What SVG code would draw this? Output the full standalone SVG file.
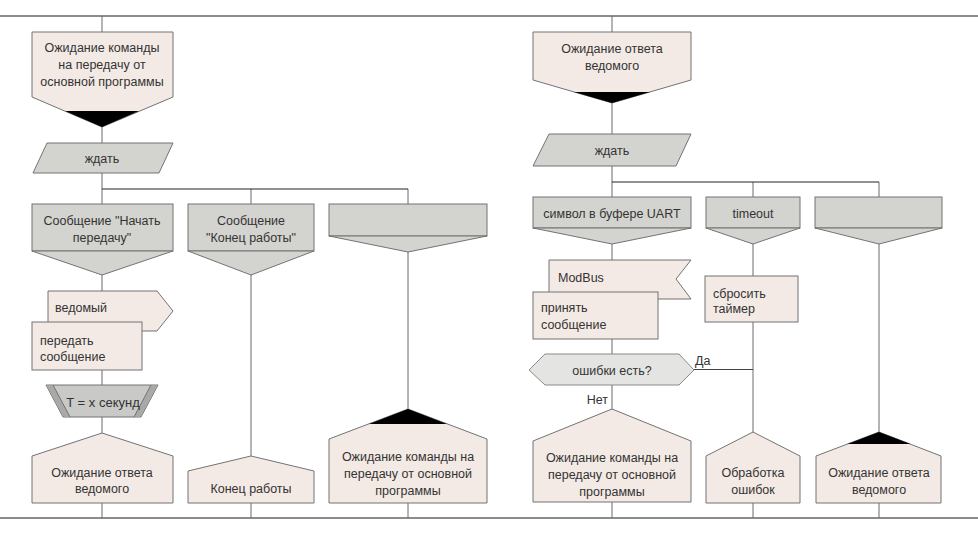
<svg xmlns="http://www.w3.org/2000/svg" width="978" height="534" viewBox="0 0 978 534">
<style>
text{font-family:"Liberation Sans",Arial,sans-serif;font-size:12.5px;fill:#333}
.c{text-anchor:middle}
.pink{fill:#f4eae5;stroke:#737373;stroke-width:1}
.gray{fill:#d3d4cf;stroke:#737373;stroke-width:1}
.dec{fill:#e4e5e2;stroke:#8a8a8a;stroke-width:1}
.tim{fill:#c9c9c7;stroke:#737373;stroke-width:1}
.band{fill:#a9a9a7;stroke:none}
.blk{fill:#000;stroke:none}
.frame{stroke:#8c8c8c;stroke-width:2;fill:none}
.v{stroke:#6a6a6a;stroke-width:1;fill:none}
.h{stroke:#222;stroke-width:1;fill:none}
</style>
<rect width="978" height="534" fill="#fff"/>
<g id="connectors">
<line class="frame" x1="0" y1="16" x2="978" y2="16"/>
<line class="frame" x1="0" y1="518" x2="978" y2="518"/>
<line class="v" x1="102" y1="16" x2="102" y2="518"/>
<line class="v" x1="251" y1="189" x2="251" y2="518"/>
<line class="v" x1="408" y1="189" x2="408" y2="518"/>
<line class="h" x1="102" y1="189" x2="408" y2="189"/>
<line class="v" x1="612" y1="16" x2="612" y2="518"/>
<line class="v" x1="753" y1="182" x2="753" y2="518"/>
<line class="v" x1="879" y1="182" x2="879" y2="518"/>
<line class="h" x1="612" y1="182" x2="879" y2="182"/>
<line class="h" x1="694" y1="369.5" x2="753" y2="369.5" style="stroke:#444"/>
<text x="695" y="365">Да</text>
<text x="608" y="404" text-anchor="end">Нет</text>
</g>
<g id="n-wait-cmd-left">
<polygon class="pink" points="32,32 173,32 173,97 102,127 32,97"/>
<polygon class="blk" points="65,111 139,111 102,127"/>
<text class="c" x="102" y="51.5">Ожидание команды</text>
<text class="c" x="102" y="69">на передачу от</text>
<text class="c" x="102" y="86">основной программы</text>
</g>
<g id="n-wait-left">
<polygon class="gray" points="47,143 173,143 159,173 33,173"/>
<text class="c" x="102" y="163">ждать</text>
</g>
<g id="n-msg-start">
<rect class="gray" x="32" y="204" width="141" height="47"/>
<polygon class="gray" points="32,251 173,251 102,275"/>
<text class="c" x="102" y="225">Сообщение "Начать</text>
<text class="c" x="102" y="242">передачу"</text>
</g>
<g id="n-msg-end">
<rect class="gray" x="188" y="204" width="126" height="47"/>
<polygon class="gray" points="188,251 314,251 251,275"/>
<text class="c" x="251" y="225">Сообщение</text>
<text class="c" x="251" y="242">"Конец работы"</text>
</g>
<g id="n-branch-empty-left">
<rect class="gray" x="329" y="204" width="158" height="32"/>
<polygon class="gray" points="329,236 487,236 408,252"/>
</g>
<g id="n-slave">
<polygon class="pink" points="48,291 157,291 173,311 157,331 48,331"/>
<text x="55" y="311.5">ведомый</text>
</g>
<g id="n-send">
<rect class="pink" x="32" y="322" width="110" height="48"/>
<text x="40" y="344.5">передать</text>
<text x="40" y="361">сообщение</text>
</g>
<g id="n-timer">
<polygon class="tim" points="46,385 158,385 141,417 63,417"/>
<polygon class="band" points="46.5,385.5 53,385.5 70,416.5 63.5,416.5"/>
<polygon class="band" points="157.5,385.5 151,385.5 134,416.5 140.5,416.5"/>
<line x1="53" y1="385" x2="70" y2="417" stroke="#737373"/>
<line x1="151" y1="385" x2="134" y2="417" stroke="#737373"/>
<text class="c" x="103" y="406.5" style="font-size:13px">T = x секунд</text>
</g>
<g id="n-wait-resp-left">
<polygon class="pink" points="102,433 173,456 173,503 32,503 32,456"/>
<text class="c" x="102" y="476.5">Ожидание ответа</text>
<text class="c" x="102" y="493">ведомого</text>
</g>
<g id="n-end">
<polygon class="pink" points="251,456 314,471 314,503 188,503 188,471"/>
<text class="c" x="251" y="493">Конец работы</text>
</g>
<g id="n-wait-cmd-mid">
<polygon class="pink" points="408,409 487,439 487,503 329,503 329,439"/>
<polygon class="blk" points="408,409 447,424 369,424"/>
<text class="c" x="408" y="460.5">Ожидание команды на</text>
<text class="c" x="408" y="478">передачу от основной</text>
<text class="c" x="408" y="495">программы</text>
</g>
<g id="n-wait-resp-right">
<polygon class="pink" points="533,32 691,32 691,80 612,103 533,80"/>
<polygon class="blk" points="574,92 650,92 612,103"/>
<text class="c" x="612" y="52.5">Ожидание ответа</text>
<text class="c" x="612" y="69.5">ведомого</text>
</g>
<g id="n-wait-right">
<polygon class="gray" points="549,134 691,134 676,166 533,166"/>
<text class="c" x="612" y="155">ждать</text>
</g>
<g id="n-uart">
<rect class="gray" x="533" y="197" width="158" height="31"/>
<polygon class="gray" points="533,228 691,228 612,244"/>
<text class="c" x="612" y="217.5">символ в буфере UART</text>
</g>
<g id="n-timeout">
<rect class="gray" x="706" y="197" width="94" height="31"/>
<polygon class="gray" points="706,228 800,228 753,244"/>
<text class="c" x="753" y="217.5">timeout</text>
</g>
<g id="n-branch-empty-right">
<rect class="gray" x="815" y="197" width="127" height="31"/>
<polygon class="gray" points="815,228 942,228 879,244"/>
</g>
<g id="n-modbus">
<polygon class="pink" points="549,260 691,260 676,279 691,299 549,299"/>
<text x="558" y="281.5">ModBus</text>
</g>
<g id="n-receive">
<rect class="pink" x="533" y="292" width="125" height="47"/>
<text x="541" y="311.5">принять</text>
<text x="541" y="328.5">сообщение</text>
</g>
<g id="n-reset">
<rect class="pink" x="705" y="276" width="93" height="46"/>
<text x="713" y="297.5">сбросить</text>
<text x="713" y="312.5">таймер</text>
</g>
<g id="n-errors">
<polygon class="dec" points="529,370 545,354 679,354 694,370 679,385 545,385"/>
<text class="c" x="612" y="374.5">ошибки есть?</text>
</g>
<g id="n-wait-cmd-right">
<polygon class="pink" points="612,409 691,441 691,502 533,502 533,441"/>
<text class="c" x="612" y="461.5">Ожидание команды на</text>
<text class="c" x="612" y="478.5">передачу от основной</text>
<text class="c" x="612" y="495.5">программы</text>
</g>
<g id="n-errhandle">
<polygon class="pink" points="753,432 800,456 800,503 706,503 706,456"/>
<text class="c" x="753" y="476.5">Обработка</text>
<text class="c" x="753" y="493.5">ошибок</text>
</g>
<g id="n-wait-resp-right2">
<polygon class="pink" points="879,432 941,456 941,503 816,503 816,456"/>
<polygon class="blk" points="879,432 910.5,444 847.5,444"/>
<text class="c" x="879" y="476.5">Ожидание ответа</text>
<text class="c" x="879" y="493.5">ведомого</text>
</g>
</svg>
